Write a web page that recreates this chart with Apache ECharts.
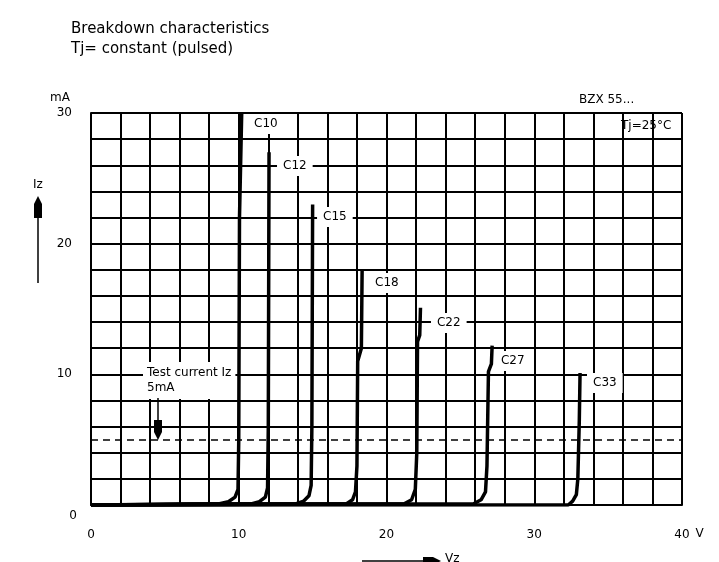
<!DOCTYPE html>
<html>
<head>
<meta charset="utf-8">
<script src="https://cdn.jsdelivr.net/npm/echarts@6/dist/echarts.min.js"></script>
<style>html,body{margin:0;padding:0;background:#fff;}#c{width:719px;height:562px;}</style>
</head>
<body>
<div id="c"></div>
<script>
// ---- data ----
const curveNames = ['C10', 'C12', 'C15', 'C18', 'C22', 'C27', 'C33'];
const vC10 = [0, 8.7, 9.3, 9.75, 9.95, 10.0, 10.05, 10.2];
const iC10 = [0, 0.1, 0.25, 0.6, 1.2, 5, 22, 30];
const vC12 = [0, 10.9, 11.4, 11.8, 11.95, 12.0, 12.05];
const iC12 = [0, 0.1, 0.25, 0.6, 1.3, 6, 27];
const vC15 = [0, 13.9, 14.4, 14.75, 14.9, 14.95, 15.0];
const iC15 = [0, 0.1, 0.3, 0.7, 1.5, 6, 23];
const vC18 = [0, 17.3, 17.7, 17.9, 18.0, 18.05, 18.3, 18.35];
const iC18 = [0, 0.1, 0.4, 1.0, 3, 11, 12, 18];
const vC22 = [0, 21.2, 21.7, 21.95, 22.05, 22.1, 22.25, 22.3];
const iC22 = [0, 0.1, 0.4, 1.2, 4, 12.5, 13, 15.1];
const vC27 = [0, 25.9, 26.4, 26.7, 26.8, 26.9, 27.1, 27.15];
const iC27 = [0, 0.1, 0.4, 1.0, 3, 10.2, 10.8, 12.2];
const vC33 = [0, 32.3, 32.6, 32.85, 32.95, 33.05, 33.1];
const iC33 = [0, 0, 0.3, 0.8, 2, 6.5, 10.1];
const labelV = [10.63, 12.59, 15.3, 18.82, 23.01, 27.34, 33.57];
const labelI = [29.16, 25.94, 22.04, 16.99, 13.93, 11.02, 9.34];
const testCurrent = 5;
const xTicks = [0, 10, 20, 30, 40];
const yTicks = [0, 10, 20, 30];

const curvesV = [vC10, vC12, vC15, vC18, vC22, vC27, vC33];
const curvesI = [iC10, iC12, iC15, iC18, iC22, iC27, iC33];

const FONT = 'DejaVu Sans';
const chart = echarts.init(document.getElementById('c'), null, {renderer: 'canvas'});

const series = curvesV.map((vs, k) => ({
  type: 'line',
  name: curveNames[k],
  data: vs.map((v, j) => [v, curvesI[k][j]]),
  symbol: 'none',
  smooth: false,
  z: 5,
  lineStyle: {color: '#000', width: 3.5},
  animation: false
}));
series[0].markLine = {
  silent: true,
  symbol: 'none',
  label: {show: false},
  lineStyle: {color: '#000', width: 1.5, type: [7, 5]},
  data: [{yAxis: testCurrent}],
  animation: false
};
series.push({
  type: 'scatter',
  data: labelV.map((v, k) => ({value: [v, labelI[k]], name: curveNames[k]})),
  symbolSize: 0,
  itemStyle: {color: '#000', opacity: 1},
  z: 10,
  label: {
    show: true,
    position: 'right',
    distance: 0,
    formatter: p => p.name,
    color: '#000',
    opacity: 1,
    fontFamily: FONT,
    fontSize: 12,
    backgroundColor: '#fff',
    padding: [4, 6, 4, 6]
  },
  animation: false
});

chart.setOption({
  backgroundColor: '#fff',
  animation: false,
  title: {
    text: 'Breakdown characteristics\nTj= constant (pulsed)',
    left: 66,
    top: 14,
    textStyle: {fontFamily: FONT, fontSize: 15, fontWeight: 'normal', color: '#000', lineHeight: 20}
  },
  grid: {left: 91, right: 37, top: 113, bottom: 57},
  xAxis: {
    type: 'value',
    min: 0, max: 40, interval: 2,
    name: 'V',
    nameLocation: 'end',
    nameGap: 4,
    nameTextStyle: {fontFamily: FONT, fontSize: 12, color: '#000', verticalAlign: 'top', padding: [23, 0, 0, 0]},
    axisLine: {lineStyle: {color: '#000', width: 2}},
    axisTick: {show: false},
    splitLine: {show: true, lineStyle: {color: '#000', width: 2}},
    axisLabel: {
      margin: 24,
      color: '#000',
      fontFamily: FONT,
      fontSize: 12,
      formatter: v => xTicks.indexOf(v) >= 0 ? String(v) : ''
    }
  },
  yAxis: {
    type: 'value',
    min: 0, max: 30, interval: 2,
    name: 'mA',
    nameLocation: 'end',
    nameGap: 15,
    nameTextStyle: {fontFamily: FONT, fontSize: 12, color: '#000', align: 'right', verticalAlign: 'middle', padding: [0, 21, 0, 0]},
    axisLine: {lineStyle: {color: '#000', width: 2}},
    axisTick: {show: false},
    splitLine: {show: true, lineStyle: {color: '#000', width: 2}},
    axisLabel: {
      margin: 14,
      color: '#000',
      fontFamily: FONT,
      fontSize: 12,
      formatter: v => yTicks.indexOf(v) < 0 ? '' : (v === 0 ? '{z|0}' : '{n|' + v + '}'),
      rich: {
        n: {fontFamily: FONT, fontSize: 12, color: '#000', padding: [0, 5, 0, 0]},
        z: {fontFamily: FONT, fontSize: 12, color: '#000', padding: [22, 0, 0, 0]}
      }
    }
  },
  graphic: [
    {type: 'text', left: 579, top: 94, z: 20,
     style: {text: 'BZX 55...', font: '12px "DejaVu Sans"', fill: '#000'}},
    {type: 'text', left: 621, top: 120, z: 20,
     style: {text: 'Tj=25°C', font: '12px "DejaVu Sans"', fill: '#000'}},
    {type: 'text', left: 143, top: 362, z: 20,
     style: {text: 'Test current Iz\n5mA', font: '12px "DejaVu Sans"', fill: '#000', lineHeight: 15,
             backgroundColor: '#fff', padding: [3, 4, 4, 4]}},
    // test current arrow
    {type: 'line', z: 20, shape: {x1: 158, y1: 398, x2: 158, y2: 422}, style: {stroke: '#000', lineWidth: 1.5}},
    {type: 'polygon', z: 20, shape: {points: [[154, 420], [162, 420], [162, 432], [158, 440], [154, 432]]}, style: {fill: '#000'}},
    // Iz arrow
    {type: 'text', left: 33, top: 179, z: 20,
     style: {text: 'Iz', font: '12px "DejaVu Sans"', fill: '#000'}},
    {type: 'line', z: 20, shape: {x1: 38, y1: 283, x2: 38, y2: 210}, style: {stroke: '#000', lineWidth: 1.5}},
    {type: 'polygon', z: 20, shape: {points: [[38, 196], [42, 204], [42, 218], [34, 218], [34, 204]]}, style: {fill: '#000'}},
    // Vz arrow
    {type: 'line', z: 20, shape: {x1: 362, y1: 561, x2: 426, y2: 561}, style: {stroke: '#000', lineWidth: 1.5}},
    {type: 'polygon', z: 20, shape: {points: [[423, 557], [433, 557], [441, 561], [433, 565], [423, 565]]}, style: {fill: '#000'}},
    {type: 'text', left: 445, top: 553, z: 20,
     style: {text: 'Vz', font: '12px "DejaVu Sans"', fill: '#000'}}
  ],
  series: series
});
</script>
</body>
</html>
